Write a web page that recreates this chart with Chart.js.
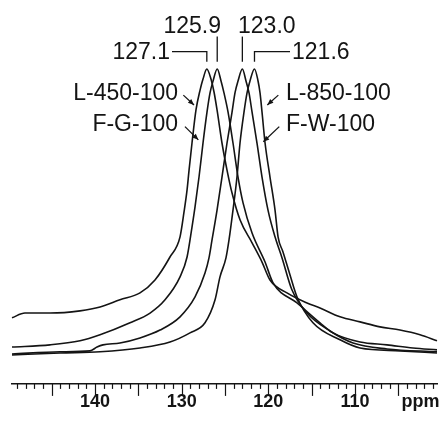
<!DOCTYPE html>
<html>
<head>
<meta charset="utf-8">
<script src="https://cdn.jsdelivr.net/npm/chart.js@4.4.1/dist/chart.umd.min.js"></script>
<style>
  html, body { margin: 0; padding: 0; background: #fff; }
  canvas { display: block; }
</style>
</head>
<body>
<canvas id="nmr" width="443" height="424"></canvas>
<script>
// 13C spectra, chemical shift (ppm) vs relative intensity
const ppmL450 = [149.58, 148.08, 145.19, 141.73, 139.42, 137.12, 134.81, 133.08, 131.35, 130.19, 129.73, 129.38, 129.15, 128.81, 128.35, 127.88, 127.54, 127.1,
                 126.62, 126.27, 125.92, 125.35, 124.77, 124.19, 123.27, 121.88, 120.73, 119.81, 117.85, 115.54, 114.04, 111.73, 109.42, 107.12, 104.81, 102.50, 100.54];
const intL450 = [21.0, 22.5, 22.5, 23.2, 24.4, 26.7, 28.9, 33.0, 40.3, 46.7, 54.6, 61.6, 67.9, 76.5, 87.0, 93.3, 96.8, 100,
                 96.8, 92.7, 87.0, 76.5, 67.9, 60.6, 52.1, 44.8, 38.7, 33.0, 28.9, 25.7, 24.1, 21.3, 19.7, 18.1, 17.1, 15.6, 13.7];

const ppmFG = [149.58, 145.19, 141.73, 139.42, 135.96, 133.65, 131.92, 130.19, 129.38, 128.81, 128.46, 128.00, 127.54, 127.08, 126.73, 126.38, 125.9,
               125.46, 125.12, 124.65, 124.08, 123.50, 122.92, 121.88, 120.38, 119.46, 116.69, 114.04, 112.54, 109.42, 106.31, 103.31, 100.54];
const intFG = [11.7, 12.4, 13.7, 15.6, 19.4, 22.5, 26.7, 34.0, 40.3, 49.8, 56.2, 65.7, 76.5, 86.3, 92.4, 96.2, 100,
               96.2, 92.4, 86.3, 76.5, 65.7, 57.5, 47.9, 38.7, 32.1, 25.7, 19.4, 16.2, 13.3, 12.4, 11.4, 10.8];

const ppmFW = [149.58, 144.04, 140.58, 139.77, 139.08, 137.12, 134.81, 132.50, 130.19, 128.46, 127.31, 126.85, 126.50, 125.92, 125.35, 124.77, 124.19, 123.85, 123.50, 123.0,
               122.58, 122.23, 121.88, 121.31, 120.73, 120.04, 119.23, 118.42, 117.27, 115.54, 112.88, 110.23, 106.31, 100.54];
const intFW = [9.5, 10.2, 10.5, 11.7, 12.4, 13.0, 14.6, 17.1, 21.3, 27.6, 35.2, 40.0, 45.7, 55.2, 65.7, 76.5, 86.3, 92.4, 96.2, 100,
               96.2, 92.4, 86.3, 76.5, 65.7, 55.2, 46.7, 40.0, 29.8, 22.5, 16.8, 13.0, 11.1, 10.2];

const ppmL850 = [149.58, 144.04, 139.42, 134.81, 131.35, 129.04, 127.31, 126.15, 125.58, 124.89, 124.54, 124.08, 123.62, 123.27, 122.81, 122.46, 122.12, 121.6,
                 121.19, 120.96, 120.73, 120.38, 119.81, 119.23, 118.88, 118.31, 117.50, 116.69, 114.85, 111.73, 109.42, 104.81, 100.54];
const intL850 = [9.2, 9.8, 10.2, 11.4, 13.3, 16.2, 19.4, 26.7, 34.0, 40.0, 45.7, 55.2, 65.7, 76.5, 86.3, 92.4, 96.2, 100,
                 96.2, 92.4, 86.3, 76.5, 65.7, 55.2, 46.7, 41.9, 34.6, 27.6, 19.4, 14.0, 11.4, 10.5, 9.8];

const sampleNames = ['L-450-100', 'F-G-100', 'F-W-100', 'L-850-100'];
const peakShifts = [127.1, 125.9, 123.0, 121.6];
const peakTexts = ['127.1', '125.9', '123.0', '121.6'];
const axisLabels = [140, 130, 120, 110];
const unitLabel = 'ppm';
const unitAt = 102.44;

const FONT = 'Arial, "Liberation Sans", sans-serif';
const INK = '#141414';

// where the peak tags and sample names sit (ppm, intensity)
const peakTagPos = [
    { tx: 131.35, ty: 105.1, align: 'right', hookFrom: 131.12 },
    { tx: 125.46, ty: 113.5, align: 'right' },
    { tx: 123.50, ty: 113.5, align: 'left' },
    { tx: 117.27, ty: 105.1, align: 'left', hookFrom: 117.50 }
];
const nameTagPos = [
    { tx: 130.42, ty: 92.1, align: 'right', from: [129.81, 91.7], to: [128.58, 88.6] },
    { tx: 130.42, ty: 82.2, align: 'right', from: [129.62, 81.7], to: [128.08, 77.5] },
    { tx: 117.96, ty: 82.2, align: 'left',  from: [118.74, 81.7], to: [120.58, 76.9] },
    { tx: 117.96, ty: 92.1, align: 'left',  from: [118.85, 91.7], to: [120.12, 88.6] }
];

const series = [
    { label: sampleNames[0], ppm: ppmL450, int: intL450 },
    { label: sampleNames[1], ppm: ppmFG, int: intFG },
    { label: sampleNames[2], ppm: ppmFW, int: intFW },
    { label: sampleNames[3], ppm: ppmL850, int: intL850 }
];

const tickValues = [];
for (let v = 101; v <= 149; v++) tickValues.push(v);
tickValues.push(unitAt);
tickValues.sort((a, b) => a - b);

const deco = {
    id: 'deco',
    afterDraw(chart) {
        const { ctx, chartArea: a, scales: { x, y } } = chart;
        const px = v => x.getPixelForValue(v), py = v => y.getPixelForValue(v);
        ctx.save();
        ctx.strokeStyle = INK;
        ctx.fillStyle = INK;

        // tick marks under the axis line, long ones every 5 ppm
        ctx.lineWidth = 1.2;
        for (let v = 101; v <= 149; v++) {
            const xx = Math.round(px(v)) + 0.5;
            ctx.beginPath();
            ctx.moveTo(xx, a.bottom);
            ctx.lineTo(xx, a.bottom + (v % 5 ? 5 : 12));
            ctx.stroke();
        }

        ctx.font = '23px ' + FONT;
        ctx.textBaseline = 'middle';
        ctx.lineWidth = 1.3;

        // peak positions with their leaders
        peakTagPos.forEach((t, i) => {
            const xp = px(peakShifts[i]);
            ctx.textAlign = t.align;
            ctx.fillText(peakTexts[i], px(t.tx), py(t.ty));
            ctx.beginPath();
            if (t.hookFrom !== undefined) {
                ctx.moveTo(px(t.hookFrom), py(105.5));
                ctx.lineTo(xp, py(105.5));
            } else {
                ctx.moveTo(xp, py(110.3));
            }
            ctx.lineTo(xp, py(102.3));
            ctx.stroke();
        });

        // sample names with arrows
        nameTagPos.forEach((t, i) => {
            ctx.textAlign = t.align;
            ctx.fillText(sampleNames[i], px(t.tx), py(t.ty));
            const x0 = px(t.from[0]), y0 = py(t.from[1]);
            const x1 = px(t.to[0]), y1 = py(t.to[1]);
            const ang = Math.atan2(y1 - y0, x1 - x0);
            ctx.beginPath();
            ctx.moveTo(x0, y0);
            ctx.lineTo(x1, y1);
            ctx.stroke();
            ctx.beginPath();
            ctx.moveTo(x1, y1);
            ctx.lineTo(x1 - 6 * Math.cos(ang) + 2.5 * Math.sin(ang), y1 - 6 * Math.sin(ang) - 2.5 * Math.cos(ang));
            ctx.lineTo(x1 - 6 * Math.cos(ang) - 2.5 * Math.sin(ang), y1 - 6 * Math.sin(ang) + 2.5 * Math.cos(ang));
            ctx.closePath();
            ctx.fill();
        });
        ctx.restore();
    }
};

new Chart(document.getElementById('nmr'), {
    type: 'line',
    data: {
        datasets: series.map(s => ({
            label: s.label,
            data: s.ppm.map((p, i) => ({ x: p, y: s.int[i] })),
            borderColor: INK,
            borderWidth: 1.6,
            pointRadius: 0,
            fill: false,
            cubicInterpolationMode: 'monotone',
            clip: false
        }))
    },
    options: {
        responsive: false,
        animation: false,
        layout: { padding: { left: 12, right: 6, top: 69, bottom: 4.5 } },
        plugins: { legend: { display: false }, tooltip: { enabled: false } },
        scales: {
            x: {
                type: 'linear',
                reverse: true,
                min: 100.54,
                max: 149.58,
                afterBuildTicks: s => { s.ticks = tickValues.map(v => ({ value: v })); },
                grid: { display: false, drawTicks: false },
                border: { display: true, color: INK, width: 1.5 },
                ticks: {
                    autoSkip: false,
                    maxRotation: 0,
                    padding: 7,
                    color: INK,
                    font: { family: FONT, size: 18, weight: 'bold' },
                    callback: v => v === unitAt ? unitLabel : (axisLabels.includes(v) ? String(v) : '')
                }
            },
            y: { display: false, min: 0, max: 100 }
        }
    },
    plugins: [deco]
});
</script>
</body>
</html>
